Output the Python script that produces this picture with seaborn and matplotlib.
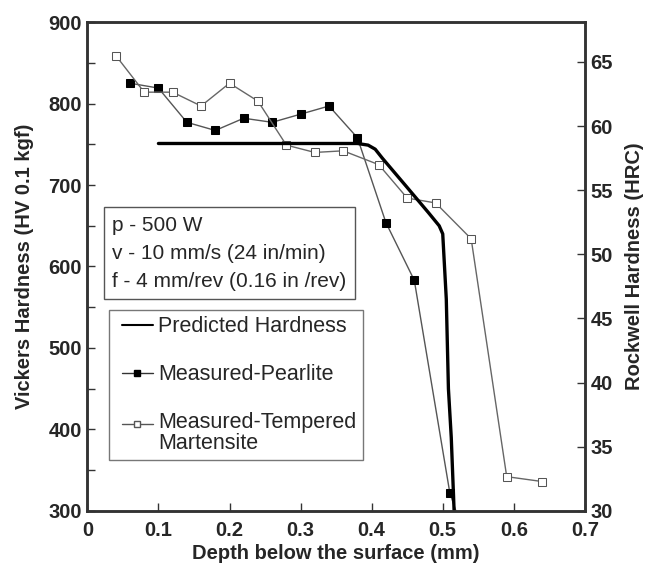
import numpy as np
import seaborn as sns
import matplotlib.pyplot as plt
from matplotlib.lines import Line2D
from matplotlib.legend_handler import HandlerLine2D

# predicted hardness curve
pred_depth = [0.10, 0.38, 0.395, 0.405, 0.415, 0.45, 0.48, 0.495, 0.500, 0.505, 0.508, 0.512, 0.516, 0.518]
pred_hv = [751, 751, 749, 744, 733, 697, 666, 650, 640, 560, 450, 390, 300, 280]

# measured - pearlite
pearl_depth = [0.06, 0.10, 0.14, 0.18, 0.22, 0.26, 0.30, 0.34, 0.38, 0.42, 0.46, 0.51, 0.53]
pearl_hv = [825, 819, 777, 767, 782, 777, 787, 797, 758, 654, 583, 322, 270]

# measured - tempered martensite
mart_depth = [0.04, 0.08, 0.12, 0.16, 0.20, 0.24, 0.28, 0.32, 0.36, 0.41, 0.45, 0.49, 0.54, 0.59, 0.64]
mart_hv = [859, 814, 814, 797, 825, 803, 749, 740, 742, 725, 684, 678, 634, 342, 336]


class ShiftedHandler(HandlerLine2D):
    # moves the legend handle a bit (points), so it sits like in the original
    def __init__(self, dx=0, dy=0, **kw):
        super().__init__(**kw)
        self.dx = dx
        self.dy = dy

    def create_artists(self, legend, orig_handle, xdescent, ydescent, width, height, fontsize, trans):
        arts = super().create_artists(legend, orig_handle, xdescent, ydescent, width, height, fontsize, trans)
        for a in arts:
            a.set_xdata(np.asarray(a.get_xdata()) + self.dx)
            a.set_ydata(np.asarray(a.get_ydata()) + self.dy)
        return arts


sns.set_style('ticks')
plt.rcParams['font.family'] = ['Liberation Sans', 'DejaVu Sans']

fig, ax = plt.subplots(figsize=(6.47, 5.67), dpi=100)
fig.subplots_adjust(left=0.135, right=0.904, top=0.961, bottom=0.099)

sns.lineplot(x=pearl_depth, y=pearl_hv, ax=ax, sort=False, estimator=None,
             color='#555555', linewidth=1.0, marker='s', markersize=6.3,
             markerfacecolor='black', markeredgecolor='black')
sns.lineplot(x=mart_depth, y=mart_hv, ax=ax, sort=False, estimator=None,
             color='#666666', linewidth=1.0, marker='s', markersize=6.3,
             markerfacecolor='white', markeredgecolor='#555555')
sns.lineplot(x=pred_depth, y=pred_hv, ax=ax, sort=False, estimator=None,
             color='black', linewidth=2.4)

ax.set_xlim(0, 0.7)
ax.set_ylim(300, 900)
ax.set_xticks(np.arange(0, 0.71, 0.1))
ax.set_xticklabels(['0', '0.1', '0.2', '0.3', '0.4', '0.5', '0.6', '0.7'])
ax.set_yticks(np.arange(300, 901, 100))
ax.set_yticks(np.arange(350, 900, 100), minor=True)
ax.tick_params(axis='both', which='both', direction='in', labelsize=14.5, width=1, color='#333333')
ax.tick_params(axis='both', which='major', length=6)
ax.tick_params(axis='y', which='minor', length=6)
ax.tick_params(axis='x', pad=7)
ax.tick_params(axis='y', pad=4)
ax.tick_params(top=False)
for lab in ax.get_xticklabels() + ax.get_yticklabels():
    lab.set_fontweight('bold')
for s in ax.spines.values():
    s.set_linewidth(1.8)
    s.set_color('#333333')
    s.set_visible(True)

ax.set_xlabel('Depth below the surface (mm)', fontsize=14.5, fontweight='bold', labelpad=3)
ax.set_ylabel('Vickers Hardness (HV 0.1 kgf)', fontsize=14.5, fontweight='bold', labelpad=10)

ax2 = ax.twinx()
ax2.set_ylim(30, 68.1)
ax2.set_yticks(np.arange(30, 66, 5))
ax2.tick_params(axis='y', direction='in', length=6, labelsize=14.5, width=1, color='#333333', pad=4)
for lab in ax2.get_yticklabels():
    lab.set_fontweight('bold')
ax2.set_ylabel('Rockwell Hardness (HRC)', fontsize=14.5, fontweight='bold', labelpad=9)
for s in ax2.spines.values():
    s.set_linewidth(1.8)
    s.set_color('#333333')

ax.text(0.05, 0.604, 'p - 500 W\nv - 10 mm/s (24 in/min)\nf - 4 mm/rev (0.16 in /rev)',
        transform=ax.transAxes, fontsize=15, va='top', ha='left', linespacing=1.6,
        bbox=dict(boxstyle='square,pad=0.4', facecolor='white', edgecolor='#555555', linewidth=1))

h_pred = Line2D([], [], color='black', linewidth=1.5)
h_pearl = Line2D([], [], color='#333333', linewidth=1, marker='s', markersize=4,
                 markerfacecolor='black', markeredgecolor='black')
h_mart = Line2D([], [], color='#555555', linewidth=1, marker='s', markersize=4,
                markerfacecolor='white', markeredgecolor='#555555')
leg = ax.legend([h_pred, h_pearl, h_mart],
                ['Predicted Hardness', 'Measured-Pearlite', 'Measured-Tempered\nMartensite'],
                loc='upper left', bbox_to_anchor=(0.043, 0.411), borderaxespad=0,
                fontsize=15.5, handlelength=1.45, handletextpad=0.56, labelspacing=1.24,
                frameon=True, fancybox=False, edgecolor='#555555', borderpad=0.3,
                handler_map={h_pred: ShiftedHandler(dx=4.8),
                             h_pearl: ShiftedHandler(dx=4.8),
                             h_mart: ShiftedHandler(dx=4.8, dy=6.5)})
leg.get_frame().set_linewidth(1)
leg.set_zorder(5)
for t in leg.get_texts():
    t.set_linespacing(1.0)

fig.savefig('out.png', dpi=100)
